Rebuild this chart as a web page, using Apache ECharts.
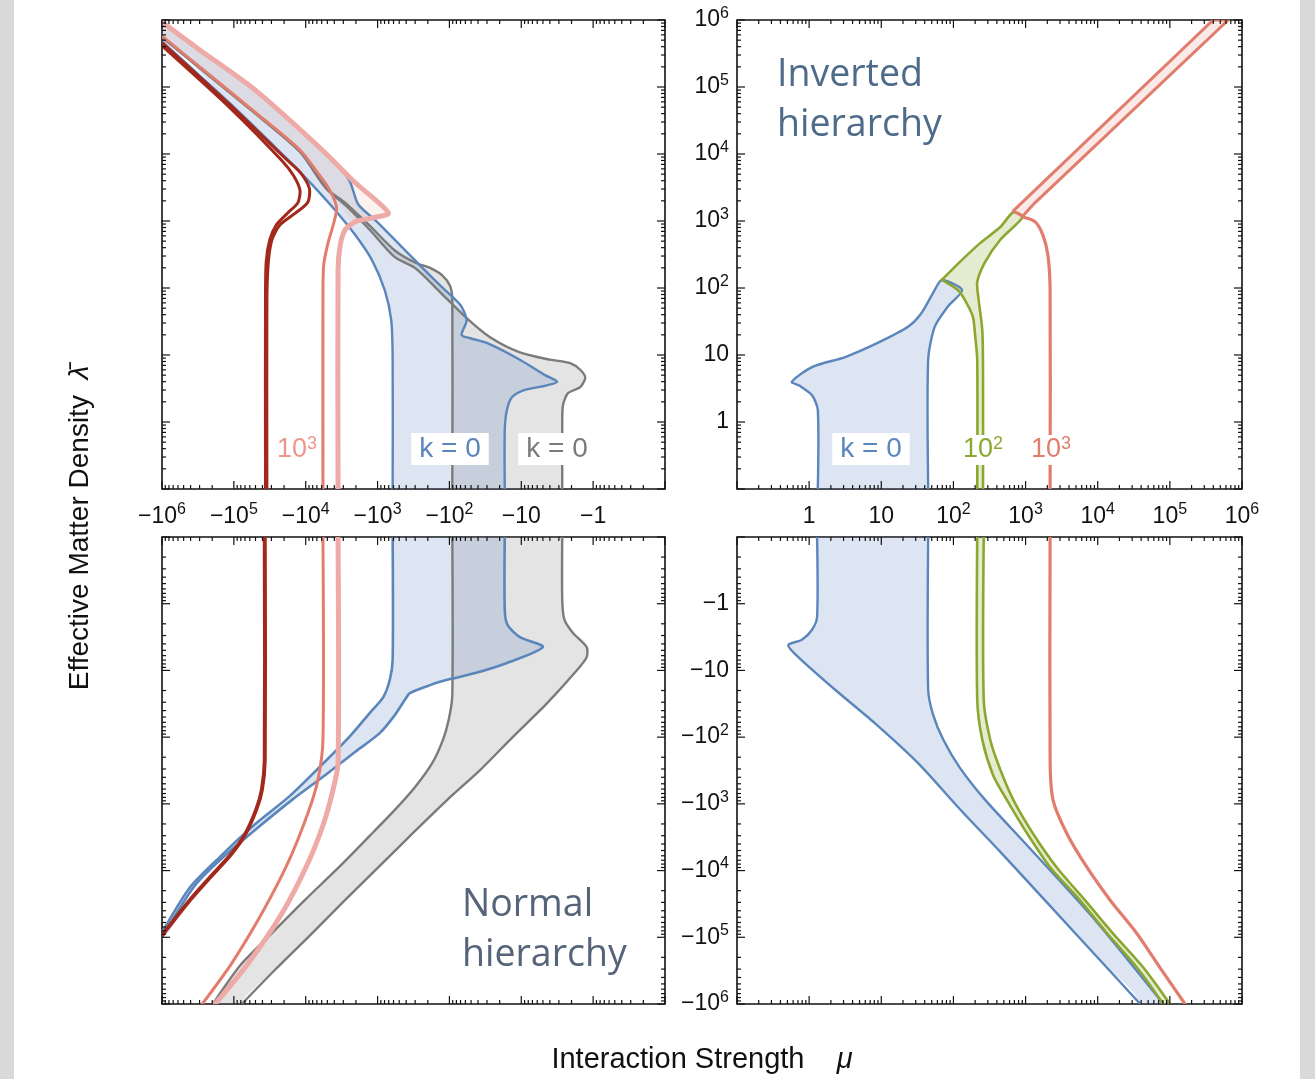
<!DOCTYPE html>
<html><head><meta charset="utf-8">
<script src="https://cdn.jsdelivr.net/npm/echarts@6/dist/echarts.min.js"></script>
<style>html,body{margin:0;padding:0;background:#fff}#c{width:1315px;height:1079px}</style>
</head><body><div id="c"></div>
<script>
// Every point is [log10|mu|, log10|lambda|]; the panel fixes the signs.
// Panels: TL = mu<0, lambda>0 ; TR = mu>0, lambda>0 ; BL = mu<0, lambda<0 ; BR = mu>0, lambda<0

// ---------- TOP-LEFT (normal hierarchy, lambda > 0) ----------
const tlGrayA = [[0.43,-1],[0.43,-0.04],[0.42,0.25],[0.35,0.43],[0.18,0.52],[0.11,0.66],[0.18,0.78],[0.32,0.88],[0.60,0.93],[1.02,1.04],[1.44,1.27],[1.76,1.55],[2.13,1.94],[2.48,2.30],[2.76,2.46],[3.11,2.87],[3.45,3.24],[3.69,3.46],[4.08,4.05],[4.71,4.62],[6,5.75]];
const tlGrayB = [[6,5.74],[4.71,4.61],[4.08,4.03],[3.72,3.49],[3.45,3.27],[3.11,2.93],[2.76,2.56],[2.48,2.38],[2.27,2.30],[2.10,2.19],[1.99,2.03],[1.96,1.82],[1.96,-1]];
const tlBlueA = [[1.23,-1],[1.23,-0.12],[1.20,0.18],[1.13,0.37],[0.95,0.48],[0.67,0.54],[0.50,0.60],[0.67,0.70],[1.02,0.93],[1.48,1.18],[1.71,1.25],[1.83,1.30],[1.76,1.52],[1.85,1.75],[2.13,2.04],[2.55,2.49],[3.01,2.99],[3.27,3.25],[3.40,3.62],[3.77,4.05],[4.71,4.95],[5.47,5.54],[6,5.96]];
const tlBlueB = [[6,5.68],[5.05,4.75],[4.29,3.96],[4.05,3.70],[3.84,3.46],[3.59,3.16],[3.31,2.79],[3.08,2.42],[2.90,1.97],[2.81,1.52],[2.79,0.93],[2.79,-1]];
const tlPinkBand = [[6,5.97],[5.47,5.55],[4.71,4.96],[3.77,4.06],[3.31,3.57],[2.85,3.12],[3.11,3.04],[3.31,2.99],[3.50,3.20],[3.62,3.40],[3.82,3.70],[4.08,4.06],[4.71,4.63],[6,5.76]];
const tlLightPink = [[6,5.97],[5.47,5.55],[4.71,4.96],[3.77,4.06],[3.31,3.57],[2.85,3.12],[3.11,3.04],[3.31,2.99],[3.45,2.87],[3.52,2.64],[3.55,2.27],[3.55,-1]];
const tlSalmon = [[6,5.76],[4.71,4.63],[4.08,4.06],[3.82,3.70],[3.66,3.45],[3.57,3.20],[3.61,2.97],[3.69,2.67],[3.75,2.34],[3.76,1.82],[3.76,-1]];
const tlDarkRedOuter = [[6,5.66],[5.05,4.73],[4.29,3.94],[4.08,3.73],[3.95,3.49],[3.97,3.28],[4.14,3.12],[4.36,2.94],[4.47,2.72],[4.52,2.39],[4.54,1.82],[4.54,-1]];
const tlDarkRedInner = [[6,5.615],[5.05,4.685],[4.33,3.90],[4.17,3.68],[4.08,3.46],[4.11,3.27],[4.25,3.12],[4.41,2.94],[4.50,2.72],[4.55,2.39],[4.56,1.82],[4.56,-1]];

// ---------- BOTTOM-LEFT (normal hierarchy, lambda < 0) ----------
const blDarkRed = [[4.57,-1],[4.57,2.34],[4.61,2.79],[4.69,3.09],[4.85,3.47],[5.05,3.77],[5.33,4.10],[5.61,4.44],[6,4.97]];
const blSalmon = [[3.76,-1],[3.76,2.04],[3.83,2.64],[3.97,3.14],[4.25,3.89],[4.61,4.64],[5.03,5.39],[5.44,6]];
const blLightPink = [[3.55,-1],[3.55,2.39],[3.62,2.79],[3.75,3.29],[3.97,3.89],[4.33,4.64],[4.80,5.39],[5.26,6]];
const blBlueA = [[2.79,-1],[2.79,0.84],[2.83,1.14],[2.92,1.40],[3.11,1.64],[3.38,1.98],[3.80,2.44],[4.22,2.88],[4.71,3.31],[5.19,3.79],[5.61,4.25],[6,4.93]];
const blBlueB = [[6,5.00],[5.54,4.22],[5.12,3.77],[4.66,3.35],[4.19,2.94],[3.73,2.57],[3.31,2.22],[2.97,1.94],[2.76,1.67],[2.62,1.44],[2.55,1.34],[2.27,1.22],[1.99,1.13],[1.64,1.04],[1.23,0.90],[0.70,0.65],[1.02,0.50],[1.19,0.32],[1.23,0.09],[1.23,-1]];
const blGrayA = [[1.96,-1],[1.96,1.37],[2.01,1.74],[2.09,2.04],[2.24,2.39],[2.48,2.75],[2.76,3.09],[3.11,3.48],[3.52,3.93],[4.01,4.44],[4.50,4.97],[4.91,5.42],[5.29,6]];
const blGrayB = [[4.89,6],[4.43,5.49],[3.94,4.97],[3.45,4.44],[2.97,3.93],[2.51,3.44],[2.03,2.94],[1.57,2.49],[1.12,2.00],[0.64,1.49],[0.22,0.99],[0.09,0.80],[0.09,0.65],[0.28,0.44],[0.40,0.24],[0.43,-0.06],[0.43,-1]];

// ---------- TOP-RIGHT (inverted hierarchy, lambda > 0) ----------
const trBlue = [[0.12,-1],[0.12,0.18],[0.04,0.40],[-0.13,0.54],[-0.24,0.60],[0.04,0.82],[0.50,0.97],[0.95,1.18],[1.37,1.42],[1.56,1.63],[1.74,1.97],[1.84,2.12],[2.12,1.97],[1.92,1.72],[1.74,1.42],[1.65,0.93],[1.65,-1]];
const trGreenA = [[1.84,2.12],[2.09,2.39],[2.37,2.67],[2.65,2.91],[2.83,3.13],[2.96,3.06],[2.65,2.72],[2.44,2.39],[2.33,2.09],[2.35,1.82],[2.40,1.37],[2.41,0.78],[2.41,-1]];
const trGreenB = [[2.33,-1],[2.33,0.93],[2.30,1.30],[2.27,1.57],[2.16,1.82],[2.06,1.97],[1.84,2.12]];
const trSalmonBand = [[2.83,3.15],[5.60,6],[5.81,6],[3.10,3.24],[2.96,3.07]];
const trSalmon = [[2.96,3.06],[3.13,2.99],[3.24,2.79],[3.31,2.49],[3.34,1.97],[3.34,-1]];

// ---------- BOTTOM-RIGHT (inverted hierarchy, lambda < 0) ----------
const brBlueA = [[0.11,-1],[0.11,0.20],[0.04,0.39],[-0.10,0.54],[-0.29,0.62],[-0.15,0.80],[0.36,1.29],[0.91,1.79],[1.51,2.39],[2.09,3.08],[2.65,3.72],[3.34,4.53],[4.03,5.34],[4.59,6]];
const brBlueB = [[4.91,6],[3.93,4.70],[3.02,3.62],[2.44,2.94],[2.09,2.46],[1.86,2.04],[1.72,1.67],[1.65,1.29],[1.65,-1]];
const brGreenA = [[2.33,-1],[2.33,1.44],[2.40,2.04],[2.55,2.57],[2.74,2.94],[3.02,3.44],[3.34,3.95],[3.75,4.44],[4.13,4.94],[4.54,5.45],[4.91,6]];
const brGreenB = [[2.42,-1],[2.42,1.44],[2.51,2.04],[2.65,2.49],[2.83,2.94],[3.10,3.44],[3.43,3.95],[3.82,4.44],[4.21,4.94],[4.63,5.45],[5.00,6]];
const brSalmon = [[3.34,-1],[3.34,2.34],[3.38,2.94],[3.57,3.44],[3.85,3.95],[4.17,4.44],[4.54,4.94],[4.86,5.45],[5.21,6]];

// ---------- axes ----------
const decades = [0.1, 1, 10, 100, 1e3, 1e4, 1e5, 1e6];
const minorSteps = [2, 3, 4, 5, 6, 7, 8, 9];
const EXP_MIN = -1, EXP_MAX = 6;

const FONT = "'Liberation Sans', Arial, sans-serif";
const COL = {blue:'#5a86bc', gray:'#7b7b7b', dark:'#a3281c', salmon:'#e27c6d', pink:'#eeaaa6', green:'#8ca72f'};
const FILL = {blue:'rgba(90,134,188,0.21)', gray:'rgba(120,120,120,0.2)', pink:'rgba(226,124,109,0.10)', green:'rgba(140,167,47,0.22)', salmon:'rgba(226,124,109,0.16)'};

const toV = p => [Math.pow(10, p[0]), Math.pow(10, p[1])];

// When a closed fill runs along the frame, push that stretch outside the frame
// so that the curve smoothing does not bulge inside (the frame clips it).
function edgeOf(p) {
  const e = [];
  if (Math.abs(p[1] - EXP_MIN) < 1e-6) e.push('b');
  if (Math.abs(p[1] - EXP_MAX) < 1e-6) e.push('t');
  if (Math.abs(p[0] - EXP_MIN) < 1e-6) e.push('l');
  if (Math.abs(p[0] - EXP_MAX) < 1e-6) e.push('r');
  return e;
}
function push(p, e) {
  if (e === 'b') return [p[0], EXP_MIN - 1.5];
  if (e === 't') return [p[0], EXP_MAX + 1.5];
  if (e === 'l') return [EXP_MIN - 1.5, p[1]];
  return [EXP_MAX + 1.5, p[1]];
}
function closeOutside(pts) {
  const out = [], n = pts.length;
  for (let i = 0; i < n; i++) {
    const a = pts[i], b = pts[(i + 1) % n];
    out.push(a);
    const ea = edgeOf(a), eb = edgeOf(b);
    const common = ea.filter(e => eb.indexOf(e) >= 0);
    if (common.length) { out.push(push(a, common[0])); out.push(push(b, common[0])); }
  }
  return out;
}

function polySeries(grid, pts, fill, smooth) {
  const vals = closeOutside(pts).map(toV);
  return {type:'custom', xAxisIndex:grid, yAxisIndex:grid, clip:true, silent:true, z:1,
    data:[toV(pts[0])],
    renderItem:(p, api) => ({type:'polygon', shape:{points: vals.map(v => api.coord(v)), smooth: smooth == null ? 0.25 : smooth},
      style:{fill: fill, stroke: null}})};
}
function lineSeries(grid, pts, stroke, width, smooth) {
  const vals = pts.map(toV);
  return {type:'custom', xAxisIndex:grid, yAxisIndex:grid, clip:true, silent:true, z:2,
    data:[vals[0]],
    renderItem:(p, api) => ({type:'polyline', shape:{points: vals.map(v => api.coord(v)), smooth: smooth == null ? 0.25 : smooth},
      style:{fill:'none', stroke: stroke, lineWidth: width, lineJoin:'round', lineCap:'round'}})};
}
function tickData() {
  const d = [];
  decades.forEach((v, i) => {
    d.push([v, v, 0, 1]); d.push([v, v, 1, 1]);
    if (i < decades.length - 1) minorSteps.forEach(m => { d.push([v*m, v*m, 0, 0]); d.push([v*m, v*m, 1, 0]); });
  });
  return d;
}
function tickSeries(grid) {
  return {type:'custom', xAxisIndex:grid, yAxisIndex:grid, silent:true, z:5, data: tickData(),
    renderItem:(p, api) => {
      const v = api.value(0), isY = api.value(2), major = api.value(3);
      const L = major ? 8 : 4;
      const a = isY ? api.coord([0.1, v]) : api.coord([v, 0.1]);
      const b = isY ? api.coord([1e6, v]) : api.coord([v, 1e6]);
      const dx = b[0]-a[0], dy = b[1]-a[1], len = Math.hypot(dx, dy) || 1;
      const ux = dx/len, uy = dy/len;
      const st = {stroke:'#111', lineWidth:1.2};
      return {type:'group', children:[
        {type:'line', shape:{x1:a[0], y1:a[1], x2:a[0]+ux*L, y2:a[1]+uy*L}, style:st},
        {type:'line', shape:{x1:b[0], y1:b[1], x2:b[0]-ux*L, y2:b[1]-uy*L}, style:st}]};
    }};
}

const richLab = {
  n:{fontSize:23, fontFamily:FONT, color:'#111', lineHeight:29},
  s:{fontSize:16, fontFamily:FONT, color:'#111', verticalAlign:'top', lineHeight:17}
};
function fmt(v, neg) {
  const e = Math.round(Math.log10(v));
  if (e < 0) return '';
  const pre = neg ? '\u2212' : '';
  if (e === 0) return '{n|' + pre + '1}';
  if (e === 1) return '{n|' + pre + '10}';
  return '{n|' + pre + '10}{s|' + e + '}';
}
function logAxis(grid, inverse, label, neg, margin) {
  return {type:'log', logBase:10, gridIndex:grid, min:0.1, max:1e6, inverse:inverse, splitNumber:7,
    axisLine:{show:false}, axisTick:{show:false}, splitLine:{show:false}, minorTick:{show:false},
    axisLabel: label ? {show:true, interval:0, margin:margin, showMinLabel:true, showMaxLabel:true,
      formatter: v => fmt(v, neg), rich: richLab} : {show:false}};
}

const gridBox = {show:true, borderColor:'#111', borderWidth:1.6, backgroundColor:'#fff'};

const series = [
  // TL fills
  polySeries(0, tlGrayA.concat(tlGrayB), FILL.gray),
  polySeries(0, tlBlueA.concat(tlBlueB), FILL.blue),
  polySeries(0, tlPinkBand, FILL.pink),
  // TL lines
  lineSeries(0, tlGrayA, COL.gray, 2.4), lineSeries(0, tlGrayB, COL.gray, 2.4),
  lineSeries(0, tlBlueA, COL.blue, 2.4), lineSeries(0, tlBlueB, COL.blue, 2.4),
  lineSeries(0, tlLightPink, COL.pink, 5),
  lineSeries(0, tlSalmon, COL.salmon, 3),
  lineSeries(0, tlDarkRedOuter, COL.dark, 3), lineSeries(0, tlDarkRedInner, COL.dark, 3),
  // BL fills
  polySeries(2, blGrayA.concat(blGrayB), FILL.gray),
  polySeries(2, blBlueA.concat(blBlueB), FILL.blue),
  // BL lines
  lineSeries(2, blGrayA, COL.gray, 2.4), lineSeries(2, blGrayB, COL.gray, 2.4),
  lineSeries(2, blBlueA, COL.blue, 2.6), lineSeries(2, blBlueB, COL.blue, 2.6),
  lineSeries(2, blLightPink, COL.pink, 5),
  lineSeries(2, blSalmon, COL.salmon, 3),
  lineSeries(2, blDarkRed, COL.dark, 4),
  // TR
  polySeries(1, trBlue, FILL.blue),
  polySeries(1, trGreenA.concat(trGreenB), FILL.green),
  polySeries(1, trSalmonBand, FILL.salmon, 0),
  lineSeries(1, trBlue, COL.blue, 2.4),
  lineSeries(1, trGreenA, COL.green, 2.6), lineSeries(1, trGreenB, COL.green, 2.6),
  lineSeries(1, trSalmonBand.concat([trSalmonBand[0]]), COL.salmon, 3, 0),
  lineSeries(1, trSalmon, COL.salmon, 3.2),
  // BR
  polySeries(3, brBlueA.concat(brBlueB), FILL.blue),
  polySeries(3, brGreenA.concat(brGreenB.slice().reverse()), FILL.green),
  lineSeries(3, brBlueA, COL.blue, 2.4), lineSeries(3, brBlueB, COL.blue, 2.4),
  lineSeries(3, brGreenA, COL.green, 2.6), lineSeries(3, brGreenB, COL.green, 2.6),
  lineSeries(3, brSalmon, COL.salmon, 3.2),
  tickSeries(0), tickSeries(1), tickSeries(2), tickSeries(3)
];

function boxLabel(x, y, text, color, size) {
  return {type:'text', x:x, y:y, z:20, style:{text:text, fill:color, font: size + 'px ' + FONT,
    align:'center', verticalAlign:'middle', backgroundColor:'#fff', padding:[3, 8, 1, 8]}};
}
function powLabel(x, y, exp, color, bg) {
  return {type:'text', x:x, y:y, z:20, style:{text:'{a|10}{b|' + exp + '}', align:'center', verticalAlign:'middle',
    backgroundColor: bg || null, padding: bg ? [0, 2, 0, 2] : 0,
    rich:{a:{fontSize:27, fontFamily:FONT, fill:color, lineHeight:30}, b:{fontSize:18, fontFamily:FONT, fill:color, verticalAlign:'top', lineHeight:18}}}};
}

const option = {
  backgroundColor:'#fff',
  animation:false,
  grid:[
    Object.assign({left:162, top:20, width:503, height:469}, gridBox),
    Object.assign({left:737, top:20, width:505, height:469}, gridBox),
    Object.assign({left:162, top:537, width:503, height:467}, gridBox),
    Object.assign({left:737, top:537, width:505, height:467}, gridBox)
  ],
  xAxis:[logAxis(0, true, true, true, 13), logAxis(1, false, true, false, 13), logAxis(2, true, false), logAxis(3, false, false)],
  yAxis:[logAxis(0, false, false), logAxis(1, false, true, false, 8), logAxis(2, true, false), logAxis(3, true, true, true, 8)],
  series: series,
  graphic:[
    {type:'rect', z:-10, shape:{x:0, y:0, width:14, height:1079}, style:{fill:'#d9d9d9'}},
    {type:'rect', z:-10, shape:{x:1300, y:0, width:15, height:1079}, style:{fill:'#d9d9d9'}},
    boxLabel(450, 449, 'k = 0', COL.blue, 28),
    boxLabel(557, 449, 'k = 0', COL.gray, 28),
    boxLabel(871, 449, 'k = 0', COL.blue, 28),
    powLabel(297, 450, '3', '#eb978d'),
    powLabel(983, 450, '2', COL.green, '#fff'),
    powLabel(1051, 450, '3', COL.salmon, '#fff'),
    {type:'text', x:777, y:100, z:20, style:{text:'Inverted\nhierarchy', fill:'#4e6b8a', font:'37.5px "Open Sans"', align:'left', verticalAlign:'middle', lineHeight:50}},
    {type:'text', x:462, y:930, z:20, style:{text:'Normal\nhierarchy', fill:'#56647a', font:'37.5px "Open Sans"', align:'left', verticalAlign:'middle', lineHeight:50}},
    {type:'text', x:80, y:528, rotation:Math.PI/2, z:20, style:{text:'{t|Effective Matter Density  }{i|\u03bb\u0304}', align:'center', verticalAlign:'middle',
      rich:{t:{fontSize:28, fontFamily:FONT, fill:'#111'}, i:{fontSize:28, fontFamily:FONT, fontStyle:'italic', fill:'#111'}}}},
    {type:'text', x:702, y:1060, z:20, style:{text:'{t|Interaction Strength    }{i|\u03bc}', align:'center', verticalAlign:'middle',
      rich:{t:{fontSize:29, fontFamily:FONT, fill:'#111'}, i:{fontSize:29, fontFamily:FONT, fontStyle:'italic', fill:'#111'}}}}
  ]
};
const chart = echarts.init(document.getElementById('c'));
chart.setOption(option);
</script></body></html>
